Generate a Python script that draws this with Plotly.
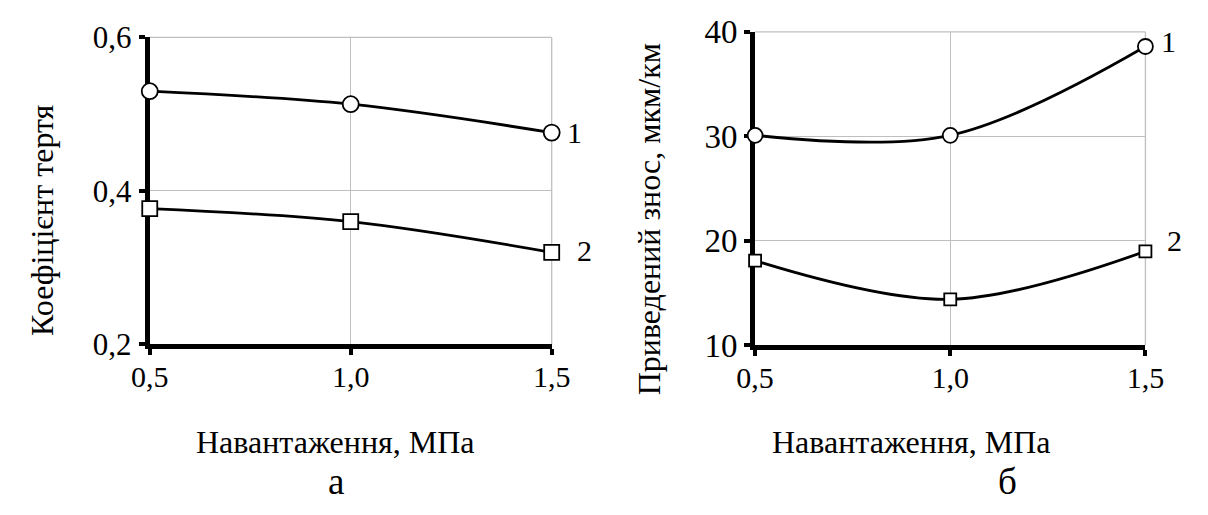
import plotly.graph_objects as go

# Load values (MPa)
load = [0.5, 1.0, 1.5]
load_ticks = ["0,5", "1,0", "1,5"]

# (а) friction coefficient
friction_1 = [0.530, 0.513, 0.476]
friction_2 = [0.377, 0.360, 0.320]
friction_ticks = [0.2, 0.4, 0.6]
friction_ticktext = ["0,2", "0,4", "0,6"]

# (б) reduced wear, µm/km
wear_1 = [30.1, 30.1, 38.6]
wear_2 = [18.1, 14.4, 19.0]
wear_ticks = [10, 20, 30, 40]
wear_ticktext = ["10", "20", "30", "40"]

FONT = "Liberation Serif"
W, H = 1208, 515
GRID = "#bfbfbf"


def py(p):
    return (H - p) / H


def px(p):
    return p / W


fig = go.Figure()

line_style = dict(color="black", width=2.8, shape="spline", smoothing=1.0)


def add_series(x, y, symbol, size, xa, ya):
    fig.add_trace(go.Scatter(
        x=x, y=y, mode="lines+markers", xaxis=xa, yaxis=ya,
        line=line_style, cliponaxis=False, showlegend=False,
        marker=dict(symbol=symbol, size=size, color="white",
                    line=dict(color="black", width=1.8)),
    ))


add_series(load, friction_1, "circle", 16, "x", "y")
add_series(load, friction_2, "square", 15, "x", "y")
add_series(load, wear_1, "circle", 15, "x2", "y2")
add_series(load, wear_2, "square", 12, "x2", "y2")

axis_common = dict(
    showline=True, linecolor="black", linewidth=5,
    ticks="outside", ticklen=6, tickwidth=4, tickcolor="black",
    showgrid=True, gridcolor=GRID, gridwidth=1,
    zeroline=False, layer="below traces",
)
x_common = dict(axis_common, range=[0.5, 1.5], tickvals=load, ticktext=load_ticks,
                ticklabelstandoff=-4,
                tickfont=dict(family=FONT, size=30, color="black"))

fig.update_layout(
    width=W, height=H,
    margin=dict(l=0, r=0, t=0, b=0),
    paper_bgcolor="white", plot_bgcolor="white",
    xaxis=dict(x_common, domain=[px(135), px(550)], anchor="y"),
    yaxis=dict(axis_common, domain=[py(352), py(22)], range=[0.2, 0.6],
               tickvals=friction_ticks, ticktext=friction_ticktext, anchor="x",
               ticklabelstandoff=1,
               tickfont=dict(family=FONT, size=31, color="black")),
    xaxis2=dict(x_common, domain=[px(760), px(1163)], anchor="y2"),
    yaxis2=dict(axis_common, domain=[py(353), py(16)], range=[10, 40],
                tickvals=wear_ticks, ticktext=wear_ticktext, anchor="x2",
                ticklabelstandoff=0,
                tickfont=dict(family=FONT, size=33, color="black")),
)

# Frame edges opposite the axes, drawn as grid-coloured lines
for xr, yr in (("x", "y"), ("x2", "y2")):
    fig.add_shape(type="line", xref=f"{xr} domain", yref=f"{yr} domain",
                  x0=0, x1=1, y0=1, y1=1, line=dict(color=GRID, width=1.3),
                  layer="below")
    fig.add_shape(type="line", xref=f"{xr} domain", yref=f"{yr} domain",
                  x0=1, x1=1, y0=0, y1=1, line=dict(color=GRID, width=1.3),
                  layer="below")

text_font = dict(family=FONT, size=30, color="black")

# Curve numbers
for xr, yr, yv, dx, dy, lab in (
    ("x", "y", friction_1[-1], 23, 0, "1"),
    ("x", "y", friction_2[-1], 33, 2, "2"),
    ("x2", "y2", wear_1[-1], 23, 5, "1"),
    ("x2", "y2", wear_2[-1], 29, 11, "2"),
):
    fig.add_annotation(x=load[-1], y=yv, xref=xr, yref=yr, text=lab,
                       showarrow=False, xshift=dx, yshift=dy, font=text_font,
                       xanchor="center", yanchor="middle")

title_font = dict(family=FONT, size=32, color="black")


def label(xp, yp, text, font, angle=0):
    fig.add_annotation(x=px(xp), y=py(yp), xref="paper", yref="paper",
                       text=text, textangle=angle, showarrow=False, font=font,
                       xanchor="center", yanchor="middle")


# Axis titles and panel letters
label(24, 218, "Коефіцієнт тертя", title_font, -90)
label(650, 218, "Приведений знос, мкм/км", title_font, -90)
label(327, 457, "Навантаження, МПа", title_font)
label(921, 457, "Навантаження, МПа", title_font)
label(327, 499, "а", dict(family=FONT, size=37, color="black"))
label(1021, 499, "б", dict(family=FONT, size=37, color="black"))

fig.write_html("out.html")
